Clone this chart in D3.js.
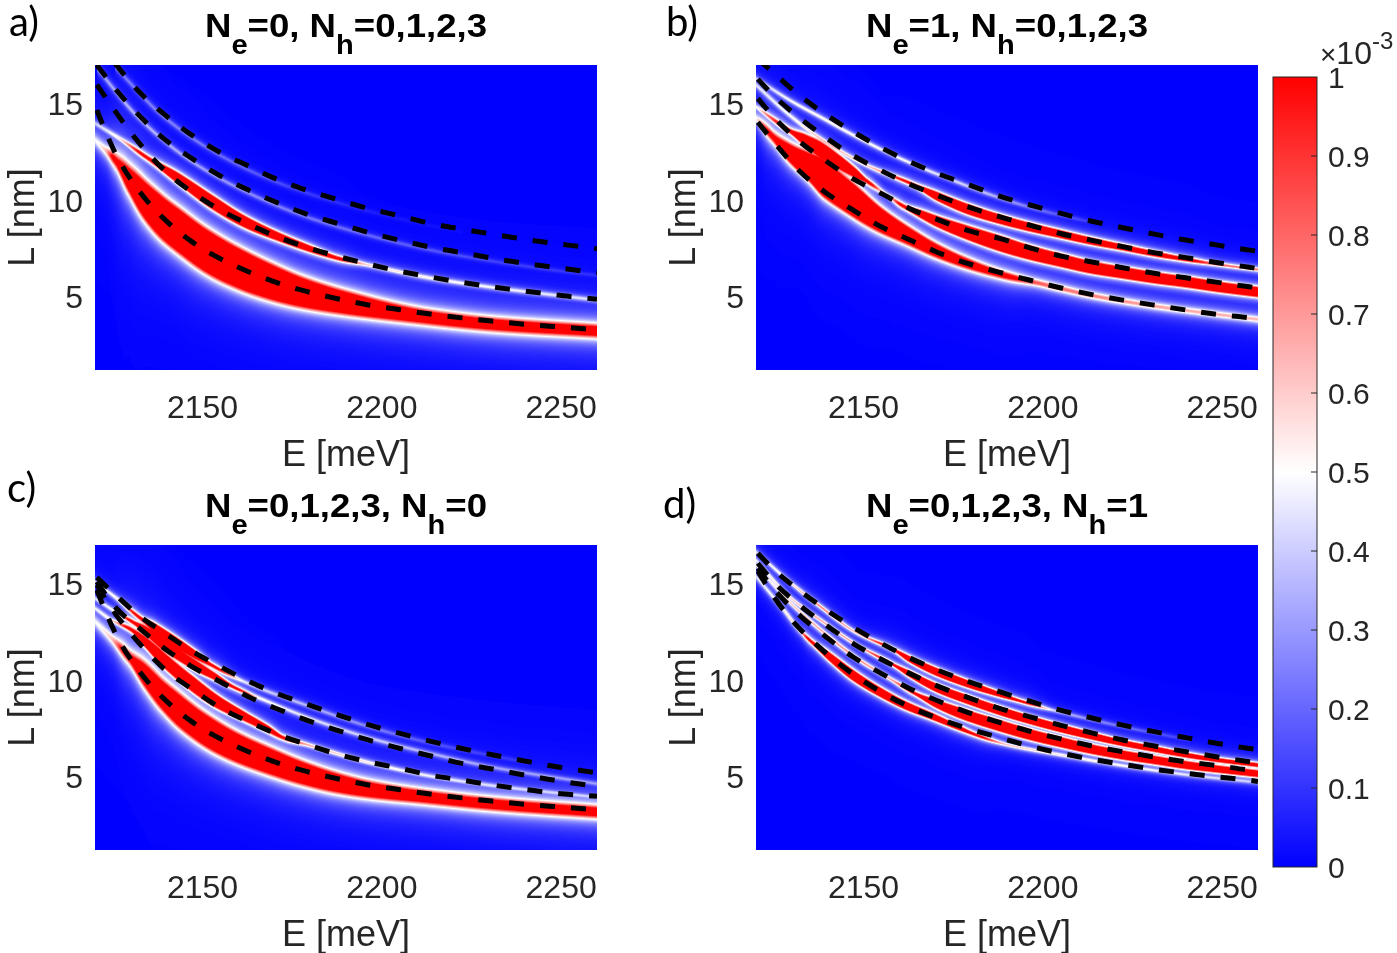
<!DOCTYPE html>
<html><head><meta charset="utf-8">
<script src="https://cdn.jsdelivr.net/npm/d3@7"></script>
<style>
body{margin:0;background:#fff;}
#wrap{position:relative;width:1397px;height:953px;overflow:hidden;background:#fff;}
canvas{position:absolute;}
svg{position:absolute;left:0;top:0;}
</style></head><body><div id="wrap"></div>
<script>
// ---------------- data ----------------
const E_DOMAIN = [2120, 2260];
const L_DOMAIN = [1.2, 17];
const E_TICKS = [2150, 2200, 2250];
const L_TICKS = [5, 10, 15];
const CB_TICKS = [0, 0.1, 0.2, 0.3, 0.4, 0.5, 0.6, 0.7, 0.8, 0.9, 1];
const CB_LABELS = ["0", "0.1", "0.2", "0.3", "0.4", "0.5", "0.6", "0.7", "0.8", "0.9", "1"];

// energies at which the dashed curves were read (meV)
const E_GRID = [2120.5, 2125.6, 2132.1, 2139.1, 2147.0, 2154.9, 2162.8, 2170.7, 2179.0, 2187.9, 2196.2, 2205.1, 2213.4, 2222.3, 2231.1, 2239.9, 2248.8, 2257.6, 2260];

// dashed curves L (nm)
const A_CURVE1 = [14.67, 12.46, 10.52, 9.06, 7.85, 6.97, 6.29, 5.73, 5.27, 4.88, 4.57, 4.32, 4.10, 3.90, 3.73, 3.57, 3.44, 3.32, 3.29];
const A_CURVE2 = [15.98, 14.61, 13.01, 11.59, 10.42, 9.49, 8.76, 8.11, 7.56, 7.08, 6.69, 6.31, 6.02, 5.74, 5.50, 5.29, 5.08, 4.91, 4.86];
const A_CURVE3 = [17.0, 15.78, 14.43, 13.20, 12.16, 11.26, 10.52, 9.88, 9.28, 8.78, 8.33, 7.92, 7.57, 7.28, 6.98, 6.72, 6.50, 6.29, 6.24];
const A_CURVE4 = [null, 17.08, 15.65, 14.48, 13.37, 12.47, 11.77, 11.08, 10.52, 10.01, 9.57, 9.18, 8.80, 8.50, 8.23, 7.97, 7.74, 7.54, 7.48];

const B_CURVE1 = [14.03, 12.87, 11.51, 10.44, 9.49, 8.62, 7.95, 7.29, 6.72, 6.26, 5.86, 5.45, 5.12, 4.82, 4.56, 4.31, 4.08, 3.91, 3.86];
const B_CURVE2 = [15.27, 14.17, 13.04, 12.08, 11.11, 10.35, 9.57, 8.99, 8.43, 8.02, 7.54, 7.10, 6.81, 6.50, 6.21, 5.98, 5.74, 5.51, 5.46];
const B_CURVE3 = [16.27, 15.29, 14.27, 13.29, 12.32, 11.53, 10.83, 10.23, 9.66, 9.14, 8.71, 8.26, 7.93, 7.59, 7.28, 7.02, 6.76, 6.52, 6.45];
const B_CURVE4 = [17.31, 16.48, 15.43, 14.48, 13.55, 12.72, 11.99, 11.37, 10.82, 10.21, 9.76, 9.31, 8.92, 8.57, 8.24, 7.93, 7.67, 7.41, 7.35];

const C_CURVE1 = [14.67, 12.46, 10.52, 9.06, 7.85, 6.97, 6.29, 5.73, 5.27, 4.88, 4.57, 4.32, 4.10, 3.90, 3.73, 3.57, 3.44, 3.32, 3.29];
const C_CURVE2 = [14.93, 13.46, 11.96, 10.61, 9.54, 8.57, 7.85, 7.21, 6.67, 6.15, 5.77, 5.43, 5.08, 4.82, 4.56, 4.34, 4.13, 4.01, 3.98];
const C_CURVE3 = [15.10, 13.79, 12.73, 11.68, 10.70, 9.92, 9.14, 8.52, 7.93, 7.38, 6.90, 6.46, 6.08, 5.69, 5.38, 5.08, 4.79, 4.56, 4.51];
const C_CURVE4 = [15.32, 14.44, 13.37, 12.47, 11.51, 10.70, 9.95, 9.31, 8.76, 8.19, 7.69, 7.24, 6.84, 6.46, 6.12, 5.81, 5.51, 5.26, 5.19];

const D_CURVE1 = [15.65, 14.15, 12.68, 11.47, 10.32, 9.38, 8.62, 8.02, 7.50, 7.02, 6.59, 6.21, 5.91, 5.64, 5.38, 5.17, 4.98, 4.81, 4.75];
const D_CURVE2 = [15.79, 14.58, 13.37, 12.30, 11.21, 10.35, 9.57, 8.93, 8.33, 7.81, 7.36, 6.95, 6.60, 6.29, 6.02, 5.77, 5.57, 5.34, 5.29];
const D_CURVE3 = [16.05, 14.96, 13.89, 12.91, 11.91, 11.08, 10.35, 9.69, 9.11, 8.54, 8.11, 7.66, 7.28, 6.90, 6.59, 6.29, 6.02, 5.77, 5.70];
const D_CURVE4 = [16.57, 15.62, 14.65, 13.70, 12.75, 11.91, 11.16, 10.52, 9.94, 9.40, 8.92, 8.43, 8.05, 7.67, 7.33, 7.02, 6.72, 6.46, 6.40];

// heat-map ridges: [E (meV), centre L (nm), half-thickness of saturated part (nm), peak level (1 = colour-bar top)]
const A_BAND1 = [[2120.0,13.11,0,0.42],[2122.8,12.60,0,0.55],[2125.6,12.08,0,1],[2129.3,11.11,0.38,1],[2133.9,9.99,0.76,1],[2138.6,9.11,0.92,1],[2144.2,8.29,0.96,1],[2150.7,7.41,0.96,1],[2159.0,6.56,0.90,1],[2168.3,5.82,0.78,1],[2177.6,5.23,0.62,1],[2189.7,4.69,0.44,1],[2213.0,3.93,0.19,1],[2231.6,3.55,0.15,1],[2260.0,3.22,0.13,1]];
const A_BAND2 = [[2120.0,13.98,0,0.35],[2127.0,13.17,0,0.5],[2133.9,12.28,0,1],[2143.2,11.13,0.19,1],[2152.5,9.92,0.27,1],[2161.8,8.88,0.22,1],[2171.1,8.11,0.14,1],[2180.4,7.45,0.08,1],[2187.9,6.98,0.01,1],[2196.2,6.64,0,0.55],[2213.0,5.98,0,0.5],[2231.6,5.46,0,0.45],[2260.0,4.82,0,0.4]];
const A_GLOW3 = [[2120.5,16.85,0,0.3],[2132.1,14.28,0,0.34],[2147.0,12.0,0,0.3],[2162.8,10.37,0,0.26],[2179.0,9.13,0,0.22],[2196.2,8.18,0,0.19],[2213.4,7.42,0,0.16],[2231.1,6.83,0,0.12],[2248.8,6.35,0,0.1],[2260.0,6.10,0,0.08]];
const A_GLOW4 = [[2125.6,16.9,0,0.22],[2139.1,14.33,0,0.24],[2154.9,12.32,0,0.2],[2170.7,10.93,0,0.14],[2187.9,9.86,0,0.08],[2205.1,9.03,0,0.04],[2222.3,8.35,0,0.02]];

const B_BAND1 = [[2120.0,14.24,0,0.45],[2124.2,13.37,0.02,1],[2129.3,12.45,0.32,1],[2134.9,11.70,0.58,1],[2139.1,11.08,0.80,1],[2147.0,10.01,0.72,1],[2154.4,9.01,0.52,1],[2162.3,8.17,0.33,1],[2170.7,7.35,0.21,1],[2179.5,6.68,0.12,1],[2189.7,6.08,0.03,1],[2199.0,5.69,0,0.75],[2213.4,5.07,0,0.68],[2231.1,4.51,0,0.62],[2260.0,3.82,0,0.58]];
const B_BAND2 = [[2120.0,14.84,0,0.42],[2128.8,13.66,0,1],[2133.9,13.08,0.21,1],[2138.6,12.54,0.31,1],[2143.2,11.97,0.26,1],[2147.9,11.38,0.14,1],[2151.1,10.96,0,1],[2156.3,10.30,0,0.5],[2160.9,9.71,0,1],[2166.5,9.23,0.13,1],[2170.7,8.88,0.2,1],[2179.0,8.31,0.28,1],[2187.9,7.76,0.32,1],[2196.2,7.29,0.29,1],[2205.1,6.88,0.26,1],[2213.4,6.52,0.24,1],[2222.3,6.24,0.22,1],[2231.1,5.98,0.21,1],[2239.9,5.76,0.2,1],[2248.8,5.51,0.19,1],[2260.0,5.24,0.18,1]];
const B_BAND3 = [[2120.0,15.96,0,0.4],[2129.3,14.41,0,0.45],[2138.6,13.11,0,0.5],[2150.7,11.82,0,0.55],[2163.7,10.82,0,1],[2170.7,10.18,0.15,1],[2179.0,9.54,0.19,1],[2187.9,9.02,0.17,1],[2196.2,8.61,0.15,1],[2205.1,8.23,0.13,1],[2213.4,7.88,0.11,1],[2222.3,7.55,0.08,1],[2231.1,7.22,0.06,1],[2239.9,6.93,0.02,1],[2248.8,6.67,0,0.75],[2260.0,6.40,0,0.7]];
const B_GLOW4 = [[2120.0,16.31,0,0.35],[2129.3,15.19,0,0.46],[2138.6,14.24,0,0.5],[2147.9,13.29,0,0.5],[2157.2,12.42,0,0.48],[2166.5,11.65,0,0.44],[2175.8,10.96,0,0.4],[2185.1,10.30,0,0.34],[2199.0,9.49,0,0.2],[2213.0,8.88,0,0.1]];

const C_BAND1 = [[2120.0,13.03,0,0.42],[2124.6,12.16,0,0.55],[2128.8,11.34,0,1],[2133.9,10.26,0.38,1],[2138.6,9.26,0.55,1],[2144.2,8.31,0.67,1],[2150.7,7.41,0.67,1],[2159.0,6.55,0.61,1],[2168.3,5.83,0.53,1],[2177.6,5.20,0.44,1],[2186.9,4.70,0.35,1],[2196.2,4.34,0.26,1],[2213.0,3.93,0.16,1],[2231.6,3.56,0.13,1],[2260.0,3.17,0.11,1]];
const C_BAND2 = [[2120.0,13.72,0,0.4],[2124.6,13.11,0,0.5],[2130.2,12.60,0,1],[2133.9,11.99,0.15,1],[2139.5,10.99,0.28,1],[2147.0,9.83,0.31,1],[2154.4,8.85,0.25,1],[2161.8,8.11,0.15,1],[2168.3,7.47,0.08,1],[2172.5,7.02,0,1],[2179.5,6.64,0,0.6],[2196.2,5.74,0,0.5],[2213.4,5.03,0,0.42],[2231.1,4.53,0,0.38],[2260.0,3.93,0,0.34]];
const C_BAND3 = [[2120.0,14.24,0,0.38],[2125.6,13.55,0,0.5],[2130.7,12.99,0,1],[2133.9,12.60,0.12,1],[2139.5,11.78,0.2,1],[2147.0,10.87,0.19,1],[2153.5,10.18,0.1,1],[2159.0,9.61,0,1],[2166.5,9.02,0,0.48],[2179.5,8.05,0,0.42],[2196.2,7.02,0,0.38],[2213.4,6.21,0,0.33],[2231.1,5.48,0,0.3],[2260.0,4.63,0,0.28]];
const C_BAND4 = [[2120.0,15.10,0,0.38],[2125.6,14.30,0,0.5],[2132.6,13.22,0,1],[2136.7,12.70,0.15,1],[2142.3,11.99,0.2,1],[2147.9,11.33,0.13,1],[2153.0,10.73,0,1],[2161.8,9.90,0,0.42],[2179.5,8.66,0,0.33],[2196.2,7.60,0,0.24],[2213.4,6.75,0,0.15],[2240.9,5.72,0,0.08]];

const D_BAND1 = [[2120.0,15.36,0,0.4],[2127.4,13.72,0,0.5],[2132.1,12.60,0,0.6],[2134.9,12.08,0,1],[2140.5,11.21,0.14,1],[2147.0,10.26,0.2,1],[2154.4,9.40,0.17,1],[2161.8,8.68,0.14,1],[2169.3,8.11,0.1,1],[2175.8,7.59,0.05,1],[2181.4,7.16,0,1],[2189.7,6.67,0,0.58],[2205.1,6.12,0,0.5],[2222.3,5.57,0,0.45],[2240.9,5.08,0,0.4],[2260.0,4.70,0,0.35]];
const D_BAND2 = [[2120.0,15.96,0,0.4],[2129.3,14.06,0,0.52],[2138.6,12.51,0,0.62],[2147.9,11.16,0,0.66],[2157.2,10.09,0,0.62],[2163.7,9.37,0,1],[2170.7,8.74,0.14,1],[2179.0,8.16,0.21,1],[2187.9,7.64,0.22,1],[2196.2,7.19,0.21,1],[2205.1,6.78,0.19,1],[2213.4,6.43,0.17,1],[2222.3,6.12,0.16,1],[2231.1,5.86,0.14,1],[2239.9,5.60,0.13,1],[2248.8,5.39,0.11,1],[2260.0,5.15,0.1,1]];
const D_BAND3 = [[2120.0,16.22,0,0.4],[2129.3,14.32,0,0.52],[2138.6,13.03,0,0.62],[2147.9,11.85,0,0.62],[2158.1,10.82,0,1],[2162.8,10.32,0.09,1],[2170.7,9.57,0.15,1],[2179.0,8.99,0.16,1],[2187.9,8.42,0.16,1],[2196.2,7.95,0.15,1],[2205.1,7.50,0.14,1],[2213.4,7.12,0.12,1],[2222.3,6.74,0.09,1],[2231.1,6.43,0.08,1],[2239.9,6.12,0.06,1],[2248.8,5.86,0.04,1],[2260.0,5.60,0.03,1]];
const D_BAND4 = [[2120.0,16.65,0,0.4],[2129.3,15.10,0,0.52],[2138.6,13.72,0,0.7],[2147.9,12.47,0,0.6],[2158.1,11.61,0,1],[2162.8,11.09,0.09,1],[2170.7,10.40,0.14,1],[2179.5,9.78,0.12,1],[2187.9,9.26,0.06,1],[2194.4,8.88,0,1],[2203.7,8.40,0,0.38],[2222.3,7.59,0,0.2],[2240.9,6.90,0,0.1]];

const TITLE_A = [["N",0],["e",1],["=0, N",0],["h",1],["=0,1,2,3",0]];
const TITLE_B = [["N",0],["e",1],["=1, N",0],["h",1],["=0,1,2,3",0]];
const TITLE_C = [["N",0],["e",1],["=0,1,2,3, N",0],["h",1],["=0",0]];
const TITLE_D = [["N",0],["e",1],["=0,1,2,3, N",0],["h",1],["=1",0]];

// ---------------- layout ----------------
const W = 502, H = 305;
const panels = [
  {left:95,  top:65,  label:"a)", lx:9,   ly:36,  title:TITLE_A, curves:[A_CURVE1,A_CURVE2,A_CURVE3,A_CURVE4], bands:[A_BAND1,A_BAND2,A_GLOW3,A_GLOW4], halo:[4.6,2.4,2,2], broad:[0.12,0.05,0.03,0.03]},
  {left:756, top:65,  label:"b)", lx:666, ly:36,  title:TITLE_B, curves:[B_CURVE1,B_CURVE2,B_CURVE3,B_CURVE4], bands:[B_BAND1,B_BAND2,B_BAND3,B_GLOW4], halo:[3.6,2.4,2.2,2], broad:[0.1,0.06,0.05,0.04]},
  {left:95,  top:545, label:"c)", lx:7,   ly:502, title:TITLE_C, curves:[C_CURVE1,C_CURVE2,C_CURVE3,C_CURVE4], bands:[C_BAND1,C_BAND2,C_BAND3,C_BAND4], halo:[4.4,2.3,2.1,2.1], broad:[0.12,0.05,0.04,0.04]},
  {left:756, top:545, label:"d)", lx:663, ly:518, title:TITLE_D, curves:[D_CURVE1,D_CURVE2,D_CURVE3,D_CURVE4], bands:[D_BAND1,D_BAND2,D_BAND3,D_BAND4], halo:[2.1,2.1,1.9,1.9], broad:[0.05,0.05,0.04,0.04]}
];

const xS = d3.scaleLinear().domain(E_DOMAIN).range([0, W]);
const yS = d3.scaleLinear().domain(L_DOMAIN).range([H, 0]);
const PX_PER_NM = yS(0) - yS(1);

const cmap = d3.scaleLinear().domain([0, 0.5, 1]).range(["#0000ff", "#ffffff", "#ff0000"]).clamp(true);
const LUT = d3.range(256).map(i => d3.rgb(cmap(i / 255)));

// smooth (monotone cubic) reading between the sampled ridge points
function smoothInterp(xs, ys) {
  const n = xs.length, dx = [], s = [], m = new Array(n);
  for (let i = 0; i < n - 1; i++) { dx[i] = xs[i + 1] - xs[i]; s[i] = (ys[i + 1] - ys[i]) / dx[i]; }
  m[0] = s[0]; m[n - 1] = s[n - 2];
  for (let i = 1; i < n - 1; i++) {
    m[i] = (s[i - 1] * s[i] <= 0) ? 0 : 3 * (dx[i - 1] + dx[i]) / ((2 * dx[i] + dx[i - 1]) / s[i - 1] + (dx[i] + 2 * dx[i - 1]) / s[i]);
  }
  return x => {
    let i = d3.bisectRight(xs, x) - 1;
    i = Math.max(0, Math.min(n - 2, i));
    const h = dx[i], t = (x - xs[i]) / h, t2 = t * t, t3 = t2 * t;
    return (2 * t3 - 3 * t2 + 1) * ys[i] + (t3 - 2 * t2 + t) * h * m[i] + (-2 * t3 + 3 * t2) * ys[i + 1] + (t3 - t2) * h * m[i + 1];
  };
}

const wrap = d3.select("#wrap");

function renderHeat(canvas, bands, halo, broad) {
  const ctx = canvas.getContext("2d");
  const VMAX = new Float32Array(W * H), VSUM = new Float32Array(W * H);
  bands.forEach((band, bi) => {
    const Es = band.map(d => d[0]);
    const Lc = smoothInterp(Es, band.map(d => d[1]));
    const Hw = smoothInterp(Es, band.map(d => d[2]));
    const G = smoothInterp(Es, band.map(d => d[3]));
    const w1 = halo[bi], w2 = w1 * 4, b = broad[bi];
    const e0 = Es[0], e1 = Es[Es.length - 1];
    for (let px = 0; px < W; px++) {
      const e = xS.invert(px + 0.5);
      if (e < e0 || e > e1) continue;
      const ea = Math.max(e0, xS.invert(px - 0.5)), eb = Math.min(e1, xS.invert(px + 1.5));
      const dxp = xS(eb) - xS(ea);
      const slope = dxp > 0 ? (yS(Lc(eb)) - yS(Lc(ea))) / dxp : 0;
      const cs = 1 / Math.sqrt(1 + slope * slope);
      const yc = yS(Lc(e));
      const hp = Math.max(0, Hw(e)) * PX_PER_NM;
      const g = Math.max(0, G(e));
      for (let py = 0; py < H; py++) {
        let d = Math.abs(py + 0.5 - yc) - hp;
        d = d < 0 ? 0 : d * cs;
        if (d > 100) continue;
        const t1 = d / w1, t2 = d / w2;
        const v = g * (1 / (1 + t1 * t1) + b / (1 + t2 * t2));
        const k = py * W + px;
        VSUM[k] += v;
        if (v > VMAX[k]) VMAX[k] = v;
      }
    }
  });
  const img = ctx.createImageData(W, H);
  for (let i = 0; i < W * H; i++) {
    let v = VMAX[i] + 0.3 * (VSUM[i] - VMAX[i]);
    if (v > 1) v = 1; if (v < 0) v = 0;
    const c = LUT[Math.round(v * 255)];
    img.data[4 * i] = c.r; img.data[4 * i + 1] = c.g; img.data[4 * i + 2] = c.b; img.data[4 * i + 3] = 255;
  }
  ctx.putImageData(img, 0, 0);
}

panels.forEach(p => {
  const cv = wrap.append("canvas").attr("width", W).attr("height", H)
    .style("left", p.left + "px").style("top", p.top + "px");
  renderHeat(cv.node(), p.bands, p.halo, p.broad);
});

const svg = wrap.append("svg").attr("width", 1397).attr("height", 953);
const defs = svg.append("defs");
const txtCol = "#262626";
const sans = "'Liberation Sans', Arial, Helvetica, sans-serif";

const line = d3.line().defined(d => d[1] != null).x(d => xS(d[0])).y(d => yS(d[1])).curve(d3.curveMonotoneX);

panels.forEach((p, pi) => {
  defs.append("clipPath").attr("id", "clip" + pi).append("rect").attr("width", W).attr("height", H);
  const g = svg.append("g").attr("transform", `translate(${p.left},${p.top})`);
  const plot = g.append("g").attr("clip-path", `url(#clip${pi})`);
  p.curves.forEach(c => {
    plot.append("path").datum(E_GRID.map((e, i) => [e, c[i]]))
      .attr("d", line).attr("fill", "none").attr("stroke", "#000")
      .attr("stroke-width", 5).attr("stroke-dasharray", "15,16");
  });
  g.selectAll(".xt").data(E_TICKS).enter().append("text")
    .attr("x", d => xS(d)).attr("y", H + 48).attr("text-anchor", "middle")
    .attr("font-family", sans).attr("font-size", 32).attr("fill", txtCol).text(d => d);
  g.selectAll(".yt").data(L_TICKS).enter().append("text")
    .attr("x", -12).attr("y", d => yS(d) + 11.5).attr("text-anchor", "end")
    .attr("font-family", sans).attr("font-size", 32).attr("fill", txtCol).text(d => d);
  g.append("text").attr("x", W / 2).attr("y", H + 96).attr("text-anchor", "middle")
    .attr("font-family", sans).attr("font-size", 36).attr("fill", txtCol).text("E [meV]");
  g.append("text").attr("transform", `translate(-61,${H / 2}) rotate(-90)`).attr("text-anchor", "middle")
    .attr("font-family", sans).attr("font-size", 36).attr("fill", txtCol).text("L [nm]");
  const t = svg.append("text").attr("x", p.left + W / 2).attr("y", p.top - 28)
    .attr("text-anchor", "middle").attr("font-family", sans).attr("font-weight", "bold")
    .attr("font-size", 34).attr("fill", "#000")
    .attr("textLength", 282).attr("lengthAdjust", "spacingAndGlyphs");
  let sub = 0;
  p.title.forEach(([s, isSub]) => {
    const dy = isSub ? 17 : (sub ? -17 : 0);
    t.append("tspan").attr("dy", dy).attr("font-size", isSub ? 27 : 34).text(s);
    sub = isSub;
  });
  svg.append("text").attr("x", p.lx).attr("y", p.ly).attr("font-family", "Lato, 'Open Sans', sans-serif")
    .attr("font-size", 40).attr("fill", "#000").text(p.label);
});

// colour bar
const cb = {x: 1273, y: 77, w: 44, h: 790};
const grad = defs.append("linearGradient").attr("id", "cbg").attr("x1", 0).attr("y1", 1).attr("x2", 0).attr("y2", 0);
grad.append("stop").attr("offset", "0%").attr("stop-color", "#0000ff");
grad.append("stop").attr("offset", "50%").attr("stop-color", "#ffffff");
grad.append("stop").attr("offset", "100%").attr("stop-color", "#ff0000");
const cbS = d3.scaleLinear().domain([0, 1]).range([cb.y + cb.h, cb.y]);
svg.append("rect").attr("x", cb.x).attr("y", cb.y).attr("width", cb.w).attr("height", cb.h)
  .attr("fill", "url(#cbg)").attr("stroke", txtCol).attr("stroke-width", 1);
svg.selectAll(".cbt").data(CB_TICKS.slice(1, -1)).enter().append("line")
  .attr("x1", cb.x + cb.w - 6).attr("x2", cb.x + cb.w).attr("y1", d => cbS(d)).attr("y2", d => cbS(d))
  .attr("stroke", txtCol).attr("stroke-width", 1);
svg.selectAll(".cbl").data(CB_TICKS).enter().append("text")
  .attr("x", cb.x + cb.w + 11).attr("y", d => cbS(d) + 11)
  .attr("font-family", sans).attr("font-size", 30).attr("fill", txtCol)
  .text((d, i) => CB_LABELS[i]);
const ex = svg.append("text").attr("x", 1320).attr("y", 64).attr("font-family", sans).attr("fill", txtCol);
ex.append("tspan").attr("font-size", 28).text("\u00d7");
ex.append("tspan").attr("font-size", 32).text("10");
ex.append("tspan").attr("font-size", 24).attr("dy", -15).text("-3");
</script>
</body></html>
